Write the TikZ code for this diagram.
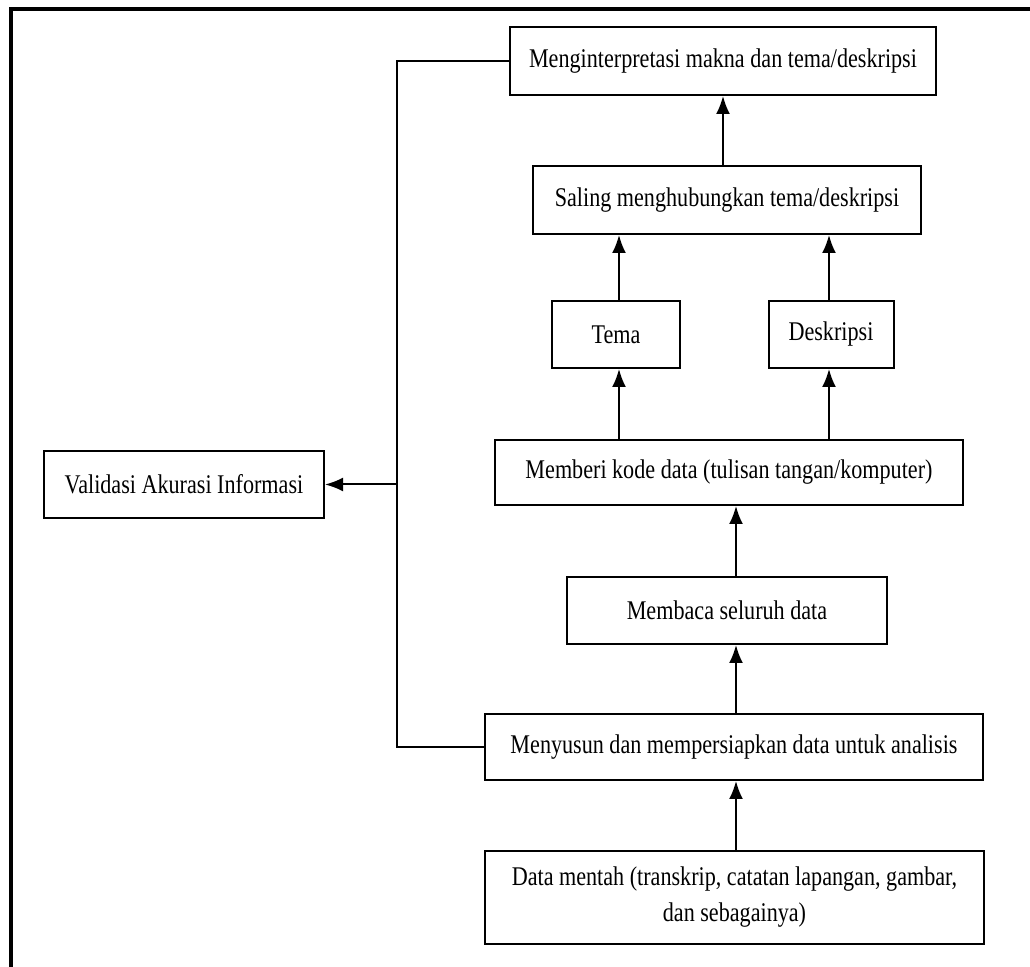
\documentclass[tikz,border=0pt]{standalone}
\usepackage{fontspec}
\setmainfont[FakeStretch=0.82]{Liberation Serif}
\usetikzlibrary{positioning, arrows.meta}

\begin{document}
\begin{tikzpicture}[x=0.5pt, y=-0.5pt, >={Latex[length=9pt, width=7pt]},
    every node/.style={draw, line width=1pt, align=center, inner sep=0pt,
        font=\fontsize{13.5}{18}\selectfont}]
    \useasboundingbox (0,0) rectangle (1030,967);

    % frame (cut at the right and at the bottom)
    \draw[line width=1.6pt] (11,967) -- (11,9) -- (1030,9);

    \node[minimum width=213pt, minimum height=34pt] (interp) at (723,61) {Menginterpretasi makna dan tema/deskripsi};
    \node[minimum width=194pt, minimum height=34pt] (saling) at (727,200) {Saling menghubungkan tema/deskripsi};
    \node[minimum width=64pt, minimum height=33.5pt] (tema) at (616,334.5) {Tema};
    \node[minimum width=62.5pt, minimum height=33.5pt] (desk) at (831,334.5) {Deskripsi};
    \node[minimum width=234pt, minimum height=32.5pt] (kode) at (729,472.5) {Memberi kode data (tulisan tangan/komputer)};
    \node[minimum width=160pt, minimum height=33.5pt] (baca) at (727,610.5) {Membaca seluruh data};
    \node[minimum width=249pt, minimum height=33pt] (susun) at (734,747) {Menyusun dan mempersiapkan data untuk analisis};
    \node[minimum width=249.5pt, minimum height=46.5pt] (mentah) at (734.5,897.5) {Data mentah (transkrip, catatan lapangan, gambar,\\ dan sebagainya)};
    \node[minimum width=140pt, minimum height=33.5pt] (valid) at (184,484.5) {Validasi Akurasi Informasi};

    \coordinate (col) at (736,0);
    \coordinate (L) at (619,0);
    \coordinate (R) at (829,0);
    \coordinate (fb) at (397,0);

    \draw[->, line width=1pt] (mentah.north -| col) -- (susun.south -| col);
    \draw[->, line width=1pt] (susun.north -| col) -- (baca.south -| col);
    \draw[->, line width=1pt] (baca.north -| col) -- (kode.south -| col);

    \draw[->, line width=1pt] (kode.north -| L) -- (tema.south -| L);
    \draw[->, line width=1pt] (kode.north -| R) -- (desk.south -| R);
    \draw[->, line width=1pt] (tema.north -| L) -- (saling.south -| L);
    \draw[->, line width=1pt] (desk.north -| R) -- (saling.south -| R);
    \draw[->, line width=1pt] (saling.north -| interp.south) -- (interp.south);

    % feedback
    \draw[line width=1pt] (interp.west) -- (interp.west -| fb) -- (susun.west -| fb) -- (susun.west);
    \draw[->, line width=1pt] (valid.east -| fb) -- (valid.east);
\end{tikzpicture}
\end{document}
